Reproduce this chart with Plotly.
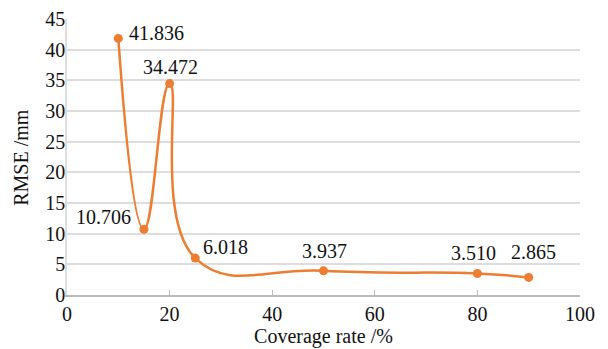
import plotly.graph_objects as go

coverage = [10, 15, 20, 25, 50, 80, 90]
rmse = [41.836, 10.706, 34.472, 6.018, 3.937, 3.510, 2.865]
labels = ["41.836", "10.706", "34.472", "6.018", "3.937", "3.510", "2.865"]

# label placement (style only): anchor and pixel offsets from each point
label_anchor = ["left", "right", "center", "left", "center", "center", "center"]
label_dx = [10, -12, 1, 7, 1, -4, 5]
label_dy = [5, 12, 17, 11, 20, 20, 25]

FONT = "Liberation Serif"
ORANGE = "#ED7D31"
TXT = "#111111"

fig = go.Figure()
fig.add_trace(go.Scatter(
    x=coverage, y=rmse, mode="lines+markers",
    line=dict(color=ORANGE, width=2.5, shape="spline", smoothing=1.3),
    marker=dict(color=ORANGE, size=9),
    showlegend=False,
))

for xv, yv, t, a, dx, dy in zip(coverage, rmse, labels, label_anchor, label_dx, label_dy):
    fig.add_annotation(
        x=xv, y=yv, text=t, showarrow=False,
        xanchor=a, yanchor="middle", xshift=dx, yshift=dy,
        font=dict(family=FONT, size=20, color=TXT),
        borderpad=0,
    )

# y-axis title as a rotated annotation, placed left of the tick labels
fig.add_annotation(
    xref="paper", yref="paper", x=-0.09, y=0.5, text="RMSE /mm",
    textangle=-90, showarrow=False, xanchor="center", yanchor="middle",
    font=dict(family=FONT, size=20, color=TXT),
)

# page body has an 8px default margin, so the figure is offset by 8px
fig.update_layout(
    width=600, height=341,
    margin=dict(l=59, r=28, t=11, b=54),
    paper_bgcolor="white", plot_bgcolor="white",
    font=dict(family=FONT, size=20, color=TXT),
)
fig.update_xaxes(
    range=[0, 100], dtick=20, showgrid=False, zeroline=False, automargin=False,
    showline=True, linecolor="#BBBBBB", linewidth=1.5,
    ticks="inside", ticklen=5, tickcolor="#BBBBBB",
    title=dict(text="Coverage rate /%", font=dict(family=FONT, size=20), standoff=0),
    tickfont=dict(family=FONT, size=20),
)
fig.update_yaxes(
    range=[0, 45], dtick=5, showgrid=True, gridcolor="#DDDDDD", gridwidth=1.5,
    zeroline=False, automargin=False, showline=True, linecolor="#DDDDDD", linewidth=1.5,
    ticklabelstandoff=-4,
    tickfont=dict(family=FONT, size=20),
)

fig.write_html("out.html")
